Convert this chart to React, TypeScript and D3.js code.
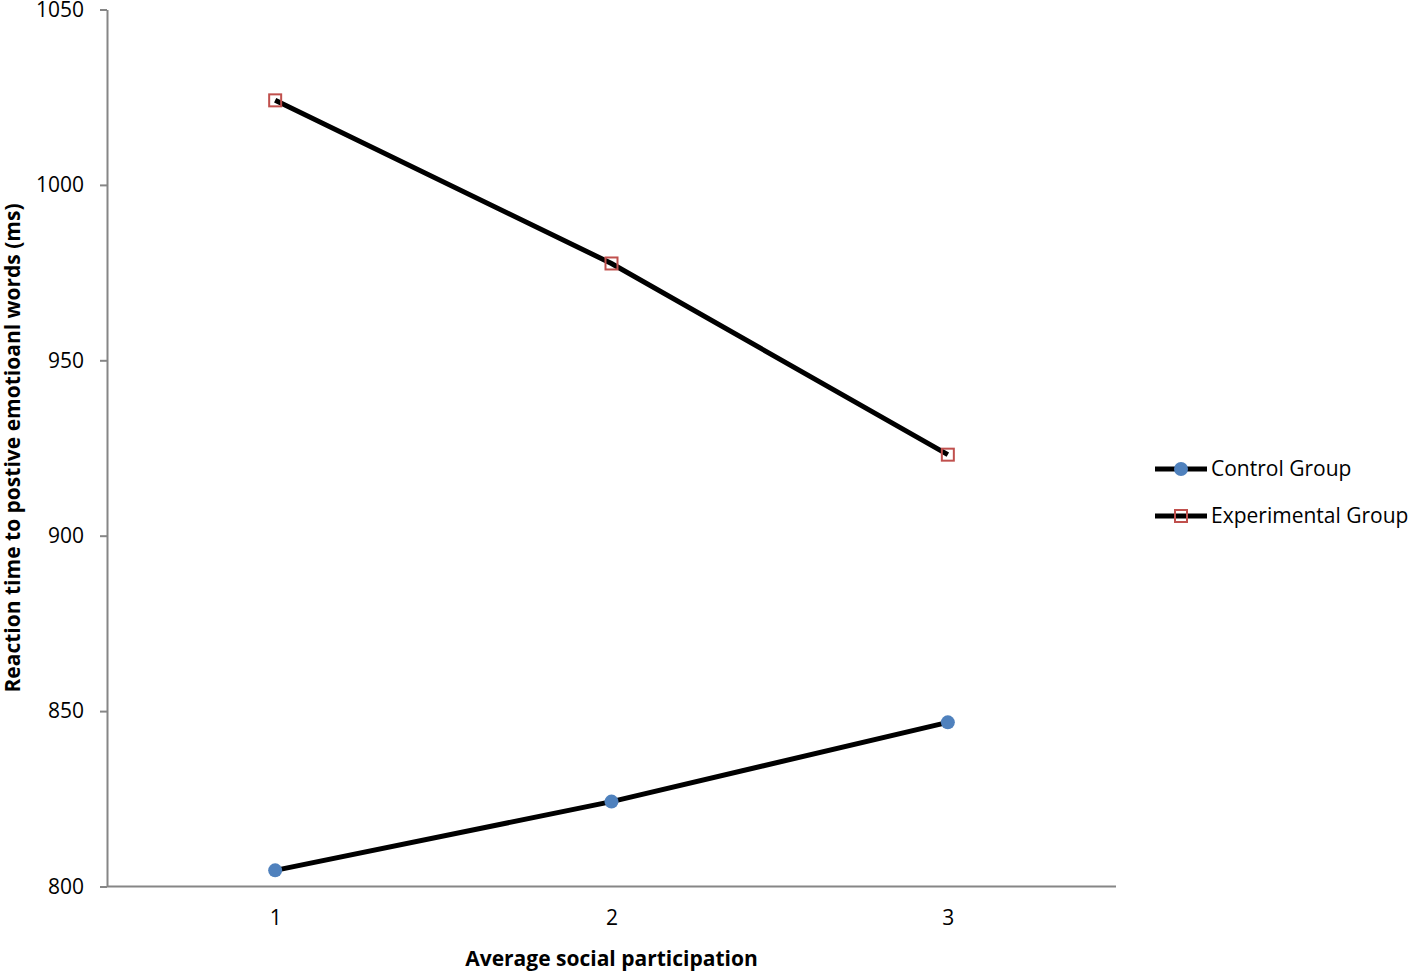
import { useEffect, useRef } from 'react'
import * as d3 from 'd3'

// chart data
const categories = ['1', '2', '3']
const controlValues = [804.6, 824.2, 846.8]
const experimentalValues = [1024.1, 977.6, 923.1]
const yTicks = [800, 850, 900, 950, 1000, 1050]
const seriesNames = ['Control Group', 'Experimental Group']

const FONT = '"Open Sans", "Liberation Sans", sans-serif'

export default function App() {
  const svgRef = useRef<SVGSVGElement>(null)

  useEffect(() => {
    if (!svgRef.current) return
    const svg = d3.select(svgRef.current)
    svg.selectAll('*').remove()

    const left = 107
    const right = 1116
    const top = 9.5
    const bottom = 886.5

    const x = d3.scalePoint<string>().domain(categories).range([left, right]).padding(0.5)
    const y = d3.scaleLinear().domain([800, 1050]).range([bottom, top])

    // Y axis
    const yAxis = svg
      .append('g')
      .attr('transform', `translate(${left},0)`)
      .call(
        d3
          .axisLeft(y)
          .tickValues(yTicks)
          .tickFormat(d3.format('d'))
          .tickSize(7)
          .tickPadding(16)
          .tickSizeOuter(0)
      )
    yAxis.select('.domain').attr('stroke', '#868686').attr('stroke-width', 2)
    yAxis.selectAll('.tick line').attr('stroke', '#868686').attr('stroke-width', 2)
    yAxis
      .selectAll('.tick text')
      .attr('font-family', FONT)
      .attr('font-size', 21)
      .attr('fill', '#000')

    // X axis
    const xAxis = svg
      .append('g')
      .attr('transform', `translate(0,${bottom})`)
      .call(d3.axisBottom(x).tickSize(0).tickPadding(24))
    xAxis.select('.domain').attr('d', `M${left},0H${right}`).attr('stroke', '#868686').attr('stroke-width', 2)
    xAxis
      .selectAll('.tick text')
      .attr('font-family', FONT)
      .attr('font-size', 21)
      .attr('fill', '#000')

    // axis titles
    svg
      .append('text')
      .attr('x', (left + right) / 2)
      .attr('y', 966)
      .attr('text-anchor', 'middle')
      .attr('font-family', FONT)
      .attr('font-size', 21)
      .attr('font-weight', 700)
      .text('Average social participation')

    svg
      .append('text')
      .attr('transform', `translate(20,${(top + bottom) / 2}) rotate(-90)`)
      .attr('text-anchor', 'middle')
      .attr('font-family', FONT)
      .attr('font-size', 21)
      .attr('font-weight', 700)
      .text('Reaction time to postive emotioanl words (ms)')

    const line = d3
      .line<number>()
      .x((_, i) => x(categories[i]) as number)
      .y(d => y(d))

    // lines
    ;[controlValues, experimentalValues].forEach(vals => {
      svg
        .append('path')
        .datum(vals)
        .attr('d', line)
        .attr('fill', 'none')
        .attr('stroke', '#000')
        .attr('stroke-width', 5)
    })

    // markers
    svg
      .selectAll('.ctrl')
      .data(controlValues)
      .enter()
      .append('circle')
      .attr('cx', (_, i) => x(categories[i]) as number)
      .attr('cy', d => y(d))
      .attr('r', 7)
      .attr('fill', '#4f81bd')

    svg
      .selectAll('.exp')
      .data(experimentalValues)
      .enter()
      .append('rect')
      .attr('x', (_, i) => (x(categories[i]) as number) - 6)
      .attr('y', d => y(d) - 6)
      .attr('width', 12)
      .attr('height', 12)
      .attr('fill', 'none')
      .attr('stroke', '#c0504d')
      .attr('stroke-width', 2)

    // legend
    const legend = svg.append('g')
    seriesNames.forEach((name, i) => {
      const ly = 469 + i * 47
      legend
        .append('line')
        .attr('x1', 1155)
        .attr('x2', 1207)
        .attr('y1', ly)
        .attr('y2', ly)
        .attr('stroke', '#000')
        .attr('stroke-width', 5)
      if (i === 0) {
        legend.append('circle').attr('cx', 1181).attr('cy', ly).attr('r', 7).attr('fill', '#4f81bd')
      } else {
        legend
          .append('rect')
          .attr('x', 1175)
          .attr('y', ly - 6)
          .attr('width', 12)
          .attr('height', 12)
          .attr('fill', 'none')
          .attr('stroke', '#c0504d')
          .attr('stroke-width', 2)
      }
      legend
        .append('text')
        .attr('x', 1211)
        .attr('y', ly)
        .attr('dy', '0.35em')
        .attr('font-family', FONT)
        .attr('font-size', 21)
        .text(name)
    })
  }, [])

  return (
    <svg
      ref={svgRef}
      width={1418}
      height={971}
      style={{ position: 'absolute', left: 0, top: 0, background: '#fff' }}
    />
  )
}
